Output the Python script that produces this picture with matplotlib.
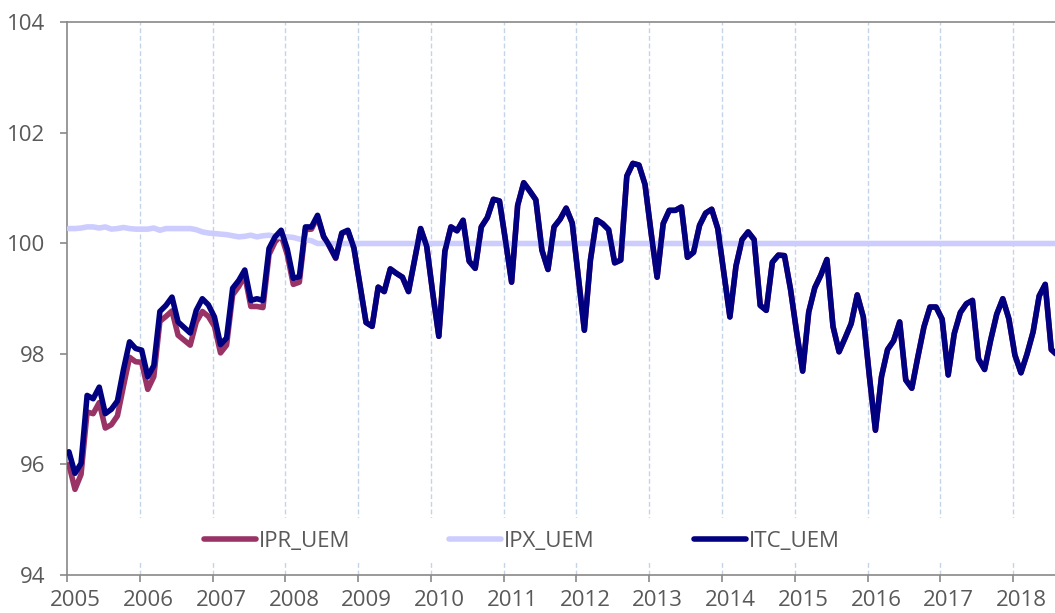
import numpy as np
import matplotlib.pyplot as plt
import matplotlib.transforms as mtransforms
from matplotlib.patches import Rectangle

plt.rcParams['font.family'] = ['Open Sans', 'DejaVu Sans']

# monthly series, Jan 2005 .. Aug 2018
ipr_uem = [
    96.00, 95.55, 95.82, 96.95, 96.92, 97.12, 96.66, 96.72, 96.88, 97.42, 97.94, 97.86,
    97.85, 97.36, 97.59, 98.59, 98.68, 98.78, 98.34, 98.25, 98.16, 98.58, 98.77, 98.68,
    98.50, 98.02, 98.16, 99.07, 99.22, 99.42, 98.86, 98.86, 98.84, 99.80, 100.03, 100.15,
    99.80, 99.26, 99.30, 100.25, 100.26, 100.48, 100.12, 99.94, 99.73, 100.18, 100.23, 99.91,
    99.25, 98.57, 98.50, 99.21, 99.13, 99.54, 99.46, 99.39, 99.13, 99.70, 100.27, 99.95,
    99.10, 98.32, 99.86, 100.30, 100.23, 100.42, 99.68, 99.55, 100.30, 100.47, 100.80, 100.77,
    100.05, 99.30, 100.69, 101.10, 100.95, 100.79, 99.88, 99.53, 100.30, 100.44, 100.64, 100.37,
    99.40, 98.43, 99.70, 100.43, 100.36, 100.25, 99.65, 99.70, 101.22, 101.45, 101.42, 101.07,
    100.20, 99.39, 100.36, 100.60, 100.60, 100.66, 99.75, 99.84, 100.33, 100.55, 100.62, 100.27,
    99.47, 98.67, 99.59, 100.07, 100.21, 100.07, 98.88, 98.79, 99.66, 99.79, 99.78, 99.17,
    98.40, 97.69, 98.76, 99.20, 99.43, 99.71, 98.50, 98.04, 98.29, 98.55, 99.07, 98.67,
    97.60, 96.62, 97.59, 98.08, 98.24, 98.58, 97.53, 97.38, 97.95, 98.49, 98.85, 98.85,
    98.63, 97.62, 98.37, 98.75, 98.91, 98.97, 97.91, 97.72, 98.25, 98.72, 99.00, 98.64,
    97.98, 97.66, 98.00, 98.40, 99.05, 99.26, 98.08, 97.98,
]

ipx_uem = [
    100.27, 100.27, 100.28, 100.30, 100.30, 100.28, 100.30, 100.26, 100.27, 100.29, 100.27, 100.26,
    100.26, 100.26, 100.28, 100.24, 100.27, 100.27, 100.27, 100.27, 100.27, 100.25, 100.21, 100.19,
    100.18, 100.17, 100.16, 100.14, 100.12, 100.13, 100.15, 100.12, 100.14, 100.15, 100.13, 100.12,
    100.12, 100.11, 100.08, 100.07, 100.05, 100.00, 100.00, 100.00, 100.00, 100.00, 100.00, 100.00,
    100.00, 100.00, 100.00, 100.00, 100.00, 100.00, 100.00, 100.00, 100.00, 100.00, 100.00, 100.00,
    100.00, 100.00, 100.00, 100.00, 100.00, 100.00, 100.00, 100.00, 100.00, 100.00, 100.00, 100.00,
    100.00, 100.00, 100.00, 100.00, 100.00, 100.00, 100.00, 100.00, 100.00, 100.00, 100.00, 100.00,
    100.00, 100.00, 100.00, 100.00, 100.00, 100.00, 100.00, 100.00, 100.00, 100.00, 100.00, 100.00,
    100.00, 100.00, 100.00, 100.00, 100.00, 100.00, 100.00, 100.00, 100.00, 100.00, 100.00, 100.00,
    100.00, 100.00, 100.00, 100.00, 100.00, 100.00, 100.00, 100.00, 100.00, 100.00, 100.00, 100.00,
    100.00, 100.00, 100.00, 100.00, 100.00, 100.00, 100.00, 100.00, 100.00, 100.00, 100.00, 100.00,
    100.00, 100.00, 100.00, 100.00, 100.00, 100.00, 100.00, 100.00, 100.00, 100.00, 100.00, 100.00,
    100.00, 100.00, 100.00, 100.00, 100.00, 100.00, 100.00, 100.00, 100.00, 100.00, 100.00, 100.00,
    100.00, 100.00, 100.00, 100.00, 100.00, 100.00, 100.00, 100.00,
]

itc_uem = [
    96.23, 95.84, 96.02, 97.25, 97.19, 97.40, 96.92, 97.00, 97.15, 97.72, 98.22, 98.10,
    98.07, 97.59, 97.79, 98.77, 98.88, 99.03, 98.58, 98.48, 98.38, 98.79, 99.00, 98.89,
    98.67, 98.17, 98.29, 99.19, 99.33, 99.52, 98.97, 99.00, 98.97, 99.91, 100.12, 100.24,
    99.90, 99.37, 99.40, 100.30, 100.30, 100.51, 100.13, 99.95, 99.74, 100.19, 100.24, 99.92,
    99.25, 98.57, 98.50, 99.21, 99.13, 99.54, 99.46, 99.39, 99.13, 99.70, 100.27, 99.95,
    99.10, 98.32, 99.86, 100.30, 100.23, 100.42, 99.68, 99.55, 100.30, 100.47, 100.80, 100.77,
    100.05, 99.30, 100.69, 101.10, 100.95, 100.79, 99.88, 99.53, 100.30, 100.44, 100.64, 100.37,
    99.40, 98.43, 99.70, 100.43, 100.36, 100.25, 99.65, 99.70, 101.22, 101.45, 101.42, 101.07,
    100.20, 99.39, 100.36, 100.60, 100.60, 100.66, 99.75, 99.84, 100.33, 100.55, 100.62, 100.27,
    99.47, 98.67, 99.59, 100.07, 100.21, 100.07, 98.88, 98.79, 99.66, 99.79, 99.78, 99.17,
    98.40, 97.69, 98.76, 99.20, 99.43, 99.71, 98.50, 98.04, 98.29, 98.55, 99.07, 98.67,
    97.60, 96.62, 97.59, 98.08, 98.24, 98.58, 97.53, 97.38, 97.95, 98.49, 98.85, 98.85,
    98.63, 97.62, 98.37, 98.75, 98.91, 98.97, 97.91, 97.72, 98.25, 98.72, 99.00, 98.64,
    97.98, 97.66, 98.00, 98.40, 99.05, 99.26, 98.08, 97.98,
]

series_names = ['IPR_UEM', 'IPX_UEM', 'ITC_UEM']
series_colors = ['#993366', '#CCCCFF', '#000080']
year_ticks = list(range(2005, 2019))
y_ticks = [94, 96, 98, 100, 102, 104]

months = 2005 + (np.arange(len(itc_uem)) + 0.3) / 12

fig = plt.figure(figsize=(10.55, 6.13), dpi=100)
ax = fig.add_axes([0.0636, 0.062, 0.9364, 0.9013])

# dashed vertical year lines
for yr in year_ticks[1:]:
    ax.axvline(yr, color='#C3D4EA', lw=1, ls=(0, (3.5, 2)), zorder=1)

# white band behind the legend
ax.add_patch(Rectangle((0.02, 0.022), 0.97, 0.081, transform=ax.transAxes,
                       facecolor='white', edgecolor='none', zorder=1.5))

for vals, name, col in zip([ipr_uem, ipx_uem, itc_uem], series_names, series_colors):
    ax.plot(months, vals, color=col, lw=4.0, label=name, zorder=3,
            solid_joinstyle='round', solid_capstyle='round')

ax.set_xlim(2005, 2018.576)
ax.set_ylim(94, 104)
ax.set_xticks(year_ticks)
ax.set_yticks(y_ticks)

for side in ['left', 'bottom', 'top']:
    ax.spines[side].set_color('#898989')
    ax.spines[side].set_linewidth(1.2)
ax.spines['right'].set_visible(False)

ax.tick_params(axis='both', direction='out', length=5, width=1.2, color='#898989',
               labelcolor='#595959', labelsize=16)
ax.tick_params(axis='y', pad=11)
ax.tick_params(axis='x', pad=6)

shift = mtransforms.ScaledTranslation(0.085, 0, fig.dpi_scale_trans)
for lbl in ax.get_xticklabels():
    lbl.set_transform(lbl.get_transform() + shift)

leg = ax.legend(loc='center left', bbox_to_anchor=(0.1386, 0.0615), ncol=3,
                frameon=False, handlelength=2.35, handletextpad=0.12, columnspacing=4.45,
                borderpad=0, borderaxespad=0, fontsize=16, labelcolor='#595959')
for ln in leg.get_lines():
    ln.set_solid_capstyle('round')
    ln.set_linewidth(4.0)

fig.savefig('out.png', dpi=100)
